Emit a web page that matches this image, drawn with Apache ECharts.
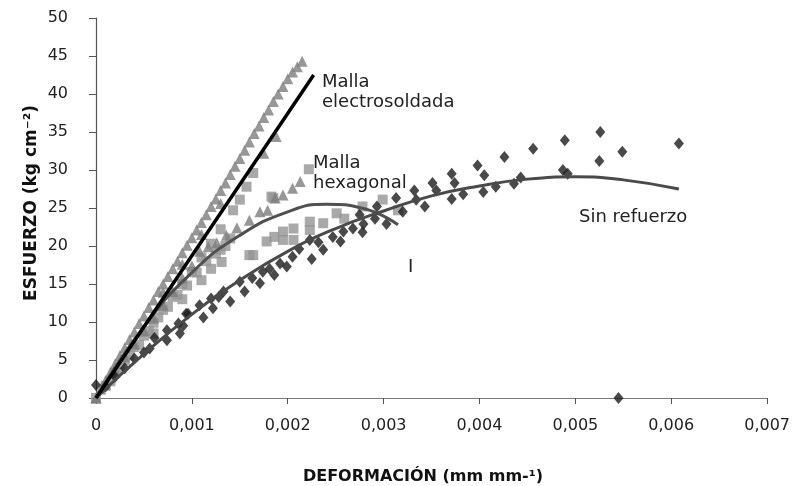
<!DOCTYPE html>
<html>
<head>
<meta charset="utf-8">
<script src="https://cdn.jsdelivr.net/npm/echarts@6/dist/echarts.min.js"></script>
<style>html,body{margin:0;padding:0;background:#fff}#c{width:793px;height:486px}</style>
</head>
<body>
<div id="c"></div>
<script>
// ---- Data (strain mm/mm, stress kg/cm2) ----
const xTicks = [0, 0.001, 0.002, 0.003, 0.004, 0.005, 0.006, 0.007];
const yTicks = [0, 5, 10, 15, 20, 25, 30, 35, 40, 45, 50];

const electroTriangles = [
  [0,0],[0.00005,1.2],[0.0001,2.3],[0.00015,3.4],[0.0002,4.5],[0.00025,5.6],[0.0003,6.6],[0.00035,7.7],
  [0.0004,8.7],[0.00045,9.8],[0.0005,10.8],[0.00055,11.9],[0.0006,12.9],[0.00065,14.0],[0.0007,15.0],
  [0.00075,16.0],[0.0008,17.0],[0.00085,18.0],[0.0009,19.1],[0.00095,20.1],[0.001,21.1],[0.00105,22.1],
  [0.0011,23.1],[0.00115,24.1],[0.0012,25.2],[0.00125,26.2],[0.0013,27.3],[0.00135,28.3],[0.0014,29.4],
  [0.00145,30.5],[0.0015,31.5],[0.00155,32.6],[0.0016,33.7],[0.00165,34.8],[0.0017,35.8],[0.00175,36.9],
  [0.0018,37.9],[0.00185,39.0],[0.0019,40.0],[0.00195,41.0],[0.002,42.0],[0.00205,42.9],[0.0021,43.6],
  [0.00215,44.3],[0.00188,34.4],[0.00175,32.2],[0.0013,25.6],[0.0011,21.5],[0.0009,17.6],[0.0007,13.9]
];
const hexTriangles = [
  [0,0],[0.0001,1.8],[0.0002,3.6],[0.0003,5.4],[0.0004,7.1],[0.0005,8.8],[0.0006,10.5],[0.0007,12.2],
  [0.0008,14.0],[0.0009,15.8],[0.001,17.4],[0.00108,19.3],[0.00117,19.9],[0.00126,20.4],[0.00136,21.4],
  [0.00147,22.4],[0.0016,23.4],[0.00171,24.5],[0.00179,24.7],[0.00187,26.3],[0.00195,26.7],[0.00205,27.6],
  [0.00213,28.5]
];
const squares = [
  [0,0],[0.0001,1.6],[0.0002,3.3],[0.0003,5.0],[0.0004,6.7],[0.0005,8.2],[0.0006,9.9],[0.0007,11.6],
  [0.0008,13.3],[0.0009,15.0],[0.001,16.6],[0.0011,18.5],[0.0012,20.3],[0.0013,22.2],[0.00143,24.7],
  [0.0015,26.1],[0.00157,27.8],[0.00164,29.6],[0.0006,8.5],[0.0009,13.0],[0.0011,15.5],[0.0012,17.0],
  [0.0013,19.5],[0.0014,21.0],[0.00131,17.9],[0.0016,18.8],[0.00164,18.8],[0.00178,20.6],[0.00186,21.2],
  [0.00195,20.8],[0.00195,21.9],[0.00206,22.3],[0.00206,20.8],[0.00223,22.1],[0.00223,23.2],[0.00237,23.0],
  [0.00251,24.3],[0.00259,23.6],[0.00278,25.2],[0.00299,26.1],[0.00315,24.7],[0.00222,30.1],[0.00183,26.5],
  [0.00185,26.3],[0.00015,2.2],[0.00025,3.9],[0.00035,5.6],[0.00045,7.0],[0.00055,8.8],[0.00065,10.6],
  [0.00075,12.0],[0.00085,13.6],[0.00095,14.8],[0.00105,16.5],[0.00115,18.0],[0.00125,19.0],[0.00135,20.0]
];
const plainDiamonds = [
  [0,1.7],[0.0001,1.5],[0.0002,2.8],[0.0003,3.9],[0.0004,5.2],[0.0005,6.0],[0.00056,6.5],[0.00061,7.9],
  [0.00074,7.6],[0.00074,8.9],[0.00086,9.8],[0.000875,8.5],[0.00091,9.5],[0.00094,11.1],[0.00096,11.1],
  [0.00108,12.2],[0.00112,10.6],[0.0012,13.1],[0.00122,11.8],[0.00133,14.0],[0.0014,12.7],[0.0015,15.3],
  [0.00155,14.0],[0.00171,15.1],[0.00174,16.6],[0.00186,16.2],[0.00192,17.7],[0.00199,17.3],[0.00223,20.8],
  [0.00225,18.3],[0.00237,19.5],[0.00247,21.2],[0.00255,20.6],[0.00258,21.9],[0.00268,22.3],[0.00275,24.1],
  [0.00278,21.8],[0.00279,22.9],[0.00291,23.6],[0.00293,25.2],[0.00303,22.9],[0.00313,26.3],[0.0032,24.5],
  [0.00332,27.3],[0.00334,26.1],[0.00343,25.2],[0.00351,28.3],[0.00355,27.3],[0.00371,29.5],[0.00371,26.2],
  [0.00374,28.3],[0.00383,26.8],[0.00398,30.6],[0.00404,27.1],[0.00405,29.3],[0.00417,27.8],[0.00426,31.7],
  [0.00436,28.2],[0.00443,29.0],[0.00456,32.8],[0.00487,30.0],[0.00489,33.9],[0.00492,29.5],[0.00525,31.2],
  [0.00526,35.0],[0.00549,32.4],[0.00608,33.5],[0.00545,0],[0.00128,13.3],[0.00163,15.8],[0.00181,17.0],
  [0.00205,18.6],[0.00212,19.6],[0.00232,20.5]
];
const electroFit = [[0,0],[0.00227,42.5]];
const hexFit = [[0,0],[0.0005,9.4],[0.001,16.5],[0.0015,21.4],[0.002,24.5],[0.0024,25.5],[0.0028,24.9],[0.00315,22.8]];
const plainFit = [[0,0],[0.0005,5.8],[0.001,11],[0.0015,15.5],[0.002,19.3],[0.0025,22.3],[0.003,24.6],
  [0.0035,26.6],[0.004,27.9],[0.0045,28.8],[0.005,29.1],[0.0055,28.7],[0.00608,27.5]];

const FONT = '"DejaVu Sans", sans-serif';
const chart = echarts.init(document.getElementById('c'), null, {renderer: 'canvas'});
chart.setOption({
  animation: false,
  backgroundColor: '#fff',
  grid: {left: 96, right: 25, top: 18, bottom: 88},
  xAxis: {
    type: 'value', min: 0, max: 0.007, interval: 0.001,
    splitLine: {show: false},
    axisLine: {lineStyle: {color: '#7a7a7a', width: 1.2}},
    axisTick: {show: true, inside: false, length: 6, lineStyle: {color: '#555'}},
    axisLabel: {margin: 20, fontSize: 16, fontFamily: FONT, color: '#222',
      formatter: v => { const t = xTicks.find(k => Math.abs(k - v) < 1e-9); return t === 0 ? '0' : t.toFixed(3).replace('.', ','); }}
  },
  yAxis: {
    type: 'value', min: 0, max: 50, interval: 5,
    splitLine: {show: false},
    axisLine: {lineStyle: {color: '#555', width: 1.2}},
    axisTick: {show: true, length: 7, lineStyle: {color: '#555'}},
    axisLabel: {margin: 28, fontSize: 16, fontFamily: FONT, color: '#222'}
  },
  series: [
    {type: 'scatter', data: squares, symbol: 'rect', symbolSize: 10, itemStyle: {color: '#939393'}, z: 2},
    {type: 'scatter', data: electroTriangles, symbol: 'triangle', symbolSize: 11, itemStyle: {color: '#7d7d7d'}, z: 3},
    {type: 'scatter', data: hexTriangles, symbol: 'triangle', symbolSize: 11, itemStyle: {color: '#7d7d7d'}, z: 3},
    {type: 'scatter', data: plainDiamonds, symbol: 'diamond', symbolSize: [10, 12], itemStyle: {color: '#1c1c1c'}, z: 4},
    {type: 'line', data: hexFit, smooth: true, showSymbol: false, lineStyle: {color: '#505050', width: 3}, z: 5},
    {type: 'line', data: plainFit, smooth: true, showSymbol: false, lineStyle: {color: '#4a4a4a', width: 3}, z: 5},
    {type: 'line', data: electroFit, showSymbol: false, lineStyle: {color: '#000', width: 3.5}, z: 6}
  ],
  graphic: [
    {type: 'text', left: 322, top: 72, style: {text: 'Malla\nelectrosoldada', font: '18px ' + FONT, fill: '#222', lineHeight: 20}},
    {type: 'text', left: 313, top: 153, style: {text: 'Malla\nhexagonal', font: '18px ' + FONT, fill: '#222', lineHeight: 20}},
    {type: 'text', left: 579, top: 208, style: {text: 'Sin refuerzo', font: '18px ' + FONT, fill: '#222'}},
    {type: 'text', left: 408, top: 258, style: {text: 'I', font: '18px ' + FONT, fill: '#222'}},
    {type: 'text', x: 423, y: 477, style: {text: 'DEFORMACIÓN (mm mm-¹)', font: 'bold 16px ' + FONT, fill: '#111', align: 'center', verticalAlign: 'middle'}},
    {type: 'text', x: 32, y: 203, rotation: Math.PI / 2, style: {text: 'ESFUERZO (kg cm⁻²)', font: 'bold 17px ' + FONT, fill: '#111', align: 'center', verticalAlign: 'middle'}}
  ]
});
</script>
</body>
</html>
